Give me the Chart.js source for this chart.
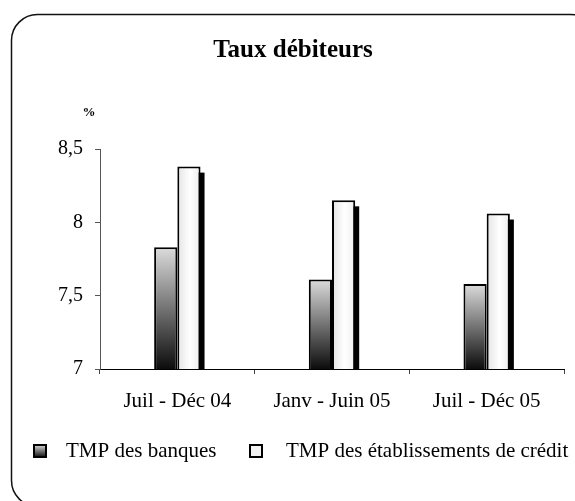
<!DOCTYPE html>
<html>
<head>
<meta charset="utf-8">
<script src="https://cdn.jsdelivr.net/npm/chart.js@4/dist/chart.umd.min.js"></script>
<style>
  html, body { margin: 0; padding: 0; background: #fff; }
  #graficoTaux { display: block; }
</style>
</head>
<body>
<canvas id="graficoTaux" width="575" height="501"></canvas>
<script>
const categorias = ['Juil - Déc 04', 'Janv - Juin 05', 'Juil - Déc 05']
const tmpBanques = [7.83, 7.61, 7.58]
const tmpEtablissements = [8.38, 8.15, 8.06]
const nomsSeries = ['TMP des banques', 'TMP des établissements de crédit']
const yMin = 7, yMax = 8.5, yPas = 0.5

const serif = "'Liberation Serif', 'Times New Roman', serif"

// degradé vertical pour les barres foncées
const fondBanques = (ctx) => {
    const chart = ctx.chart
    if (!chart.chartArea || ctx.type !== 'data') return '#777'
    const y = chart.scales.y
    const haut = y.getPixelForValue(ctx.raw)
    const bas = y.getPixelForValue(yMin)
    const g = chart.ctx.createLinearGradient(0, haut, 0, bas)
    g.addColorStop(0, '#dcdcdc')
    g.addColorStop(1, '#0c0c0c')
    return g
}

// degradé horizontal léger pour les barres blanches
const fondEtab = (ctx) => {
    const chart = ctx.chart
    if (!chart.chartArea || ctx.type !== 'data') return '#f4f4f4'
    const x = chart.scales.x
    const centre = x.getPixelForValue(ctx.dataIndex)
    const larg = (x.width / categorias.length) * 0.3 / 2
    const g = chart.ctx.createLinearGradient(centre, 0, centre + larg, 0)
    g.addColorStop(0, '#e4e4e4')
    g.addColorStop(0.55, '#ffffff')
    g.addColorStop(1, '#ededed')
    return g
}

const cadre = {
    id: 'cadre',
    beforeDraw(chart) {
        const c = chart.ctx
        c.save()
        c.fillStyle = '#fff'
        c.fillRect(0, 0, chart.width, chart.height)
        c.beginPath()
        c.roundRect(11.5, 14.5, 585, 492, 26)
        c.lineWidth = 1.5
        c.strokeStyle = '#111'
        c.stroke()
        c.restore()
    }
}

// ombre noire derrière les barres blanches
const ombre = {
    id: 'ombre',
    beforeDatasetsDraw(chart) {
        const c = chart.ctx
        const meta = chart.getDatasetMeta(1)
        const bas = chart.chartArea.bottom
        c.save()
        c.fillStyle = '#000'
        meta.data.forEach(bar => {
            const p = bar.getProps(['x', 'y', 'width'], true)
            c.fillRect(p.x - p.width / 2 + 4, p.y + 6, p.width, bas - p.y - 6)
        })
        c.restore()
    }
}

const legendeEtUnite = {
    id: 'legendeEtUnite',
    afterDraw(chart) {
        const c = chart.ctx
        c.save()
        c.fillStyle = '#000'
        c.font = "bold 13px " + serif
        c.textAlign = 'center'
        c.textBaseline = 'middle'
        c.fillText('%', 89, 113)

        const yc = 451
        const xs = [34, 250]
        const xt = [66, 286]
        xs.forEach((x, i) => {
            let f
            if (i === 0) {
                f = c.createLinearGradient(0, yc - 6, 0, yc + 6)
                f.addColorStop(0, '#d8d8d8')
                f.addColorStop(1, '#111')
            } else {
                f = '#f3f3f3'
            }
            c.fillStyle = f
            c.fillRect(x, yc - 6, 12, 12)
            c.lineWidth = 2
            c.strokeStyle = '#000'
            c.strokeRect(x, yc - 6, 12, 12)
            c.fillStyle = '#000'
            c.font = "21px " + serif
            c.textAlign = 'left'
            c.textBaseline = 'middle'
            c.fillText(nomsSeries[i], xt[i], yc)
        })
        c.restore()
    }
}

new Chart(document.getElementById('graficoTaux'), {
    type: 'bar',
    data: {
        labels: categorias,
        datasets: [{
            label: nomsSeries[0],
            data: tmpBanques,
            backgroundColor: fondBanques,
            borderColor: '#000',
            borderWidth: 2,
            categoryPercentage: 0.3,
            barPercentage: 1
        }, {
            label: nomsSeries[1],
            data: tmpEtablissements,
            backgroundColor: fondEtab,
            borderColor: '#000',
            borderWidth: 2,
            categoryPercentage: 0.3,
            barPercentage: 1
        }]
    },
    options: {
        responsive: false,
        animation: false,
        layout: { padding: { left: 22, right: 11, top: 0, bottom: 92 } },
        plugins: {
            legend: { display: false },
            tooltip: { enabled: false },
            title: {
                display: true,
                text: 'Taux débiteurs',
                color: '#000',
                font: { family: serif, size: 25, weight: 'bold' },
                padding: { top: 36, bottom: 83 }
            }
        },
        scales: {
            x: {
                afterFit: (s) => { s.height = 40 },
                grid: { drawOnChartArea: false, offset: true, tickLength: 5, color: '#444' },
                border: { color: '#000', width: 1 },
                ticks: { color: '#000', padding: 15, font: { family: serif, size: 21 } }
            },
            y: {
                min: yMin,
                max: yMax,
                afterFit: (s) => { s.width = 78 },
                grid: { drawOnChartArea: false, tickLength: 5, color: '#555' },
                border: { color: '#555', width: 1 },
                ticks: {
                    stepSize: yPas,
                    color: '#000',
                    padding: 12,
                    font: { family: serif, size: 20 },
                    callback: (v) => String(v).replace('.', ',')
                }
            }
        }
    },
    plugins: [cadre, ombre, legendeEtUnite]
})
</script>
</body>
</html>
